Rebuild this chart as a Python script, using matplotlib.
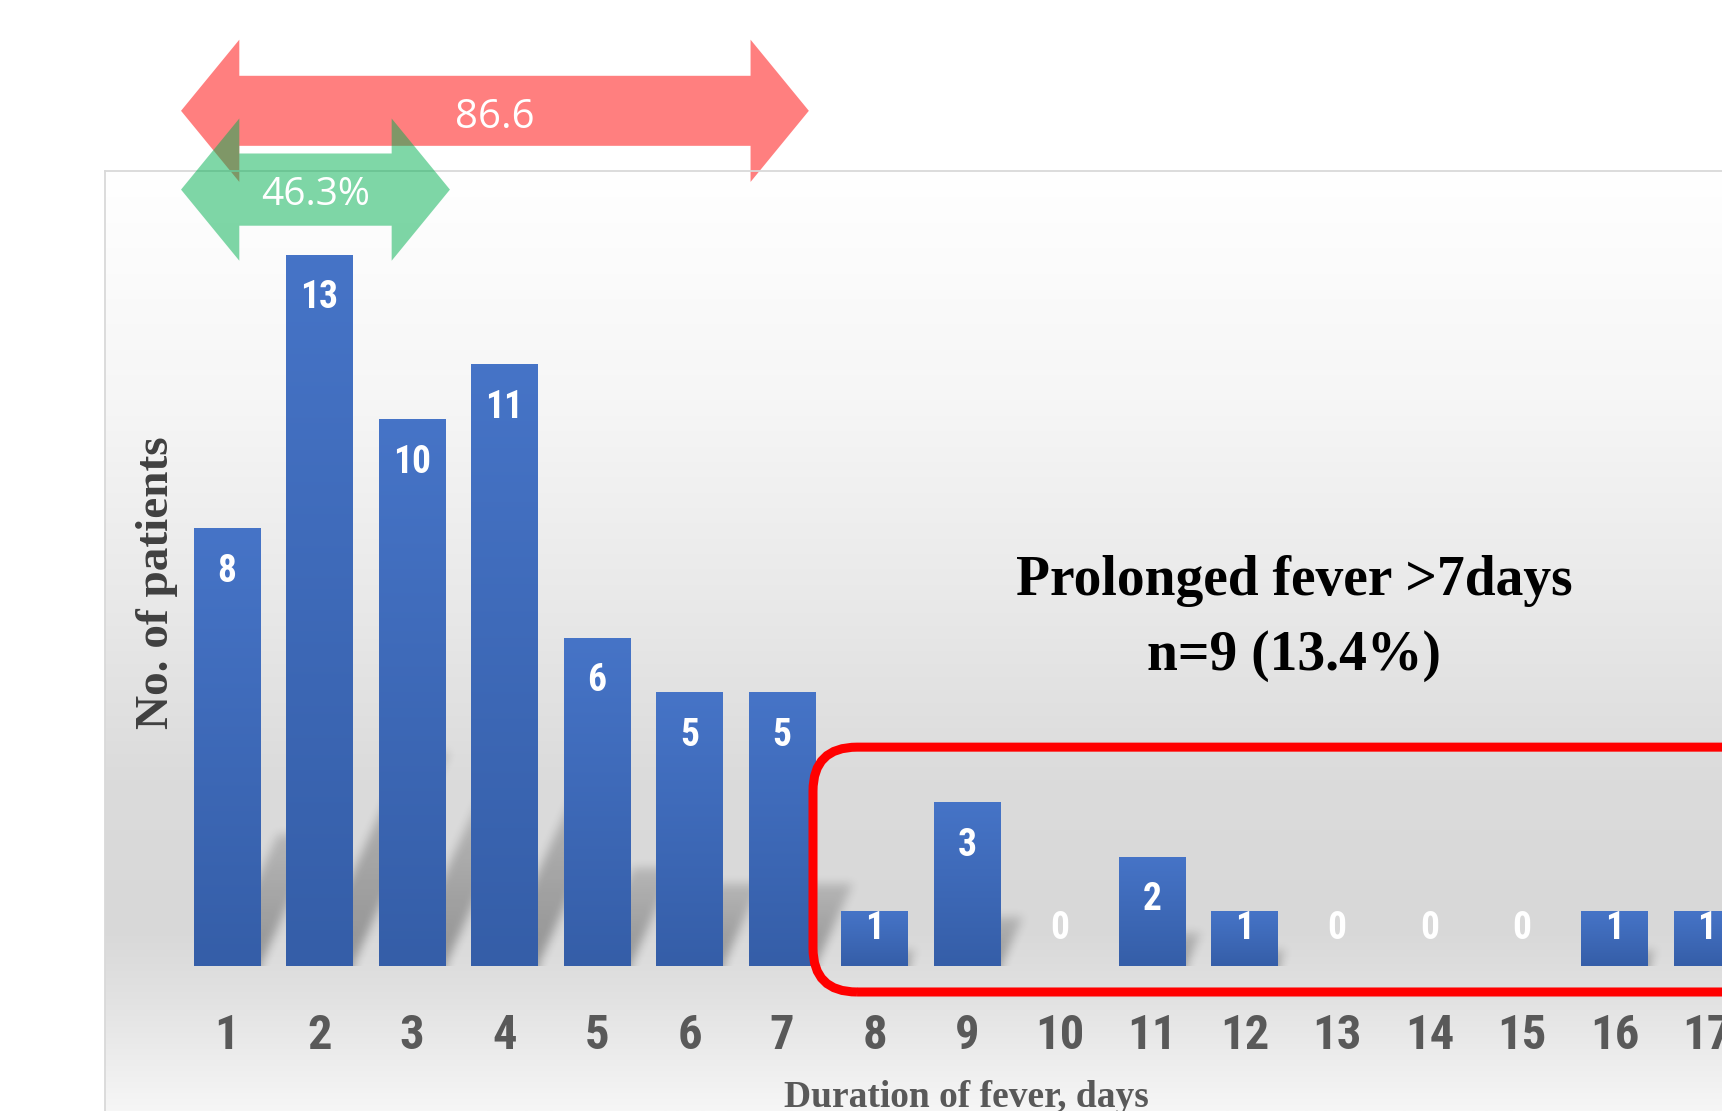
import numpy as np
import matplotlib
matplotlib.use("Agg")
import matplotlib.pyplot as plt
from matplotlib.patches import Polygon, FancyBboxPatch, Rectangle
from matplotlib import font_manager as fm

# ---------------- data ----------------
days = list(range(1, 18))
patients = [8, 13, 10, 11, 6, 5, 5, 1, 3, 0, 2, 1, 0, 0, 0, 1, 1]
tick_labels = [str(d) for d in days]
ylabel_text = "No. of patients"
xlabel_text = "Duration of fever, days"
note_line1 = "Prolonged fever >7days"
note_line2 = "n=9 (13.4%)"
red_span = (1, 7)
red_label = "86.6"
green_span = (1, 3)
green_label = "46.3%"

# ---------------- fonts ----------------
avail = {f.name for f in fm.fontManager.ttflist}
def pick(*cands):
    for c in cands:
        if c in avail:
            return c
    return "DejaVu Sans"

narrow = pick("Liberation Sans Narrow", "Roboto Condensed", "Open Sans", "Liberation Sans")
is_narrow = narrow in ("Liberation Sans Narrow", "Roboto Condensed")
serif = pick("Liberation Serif", "DejaVu Serif")
light = pick("Open Sans", "Lato", "Roboto", "DejaVu Sans")

# ---------------- figure ----------------
W, H = 1722, 1111
fig = plt.figure(figsize=(W / 100, H / 100), dpi=100)
fig.patch.set_facecolor("white")

panel_left, panel_top = 105, 171
ax = fig.add_axes([panel_left / W, 0, (W - panel_left) / W, (H - panel_top) / H])
XL = (-0.319, 17.162)
YL = (-2.65, 14.53)
px_per_x = 92.5
px_per_y = 54.7

# background gradient of the plot panel
t = np.linspace(0, 1, 500)
pix = panel_top + t * (H - panel_top)
stops_px = [171, 400, 600, 780, 930, 1000, 1111]
stops_v = [255, 246, 233, 219, 216, 226, 246]
g = np.interp(pix, stops_px, stops_v) / 255.0
img = np.repeat(np.stack([g, g, g], axis=-1)[:, None, :], 2, axis=1)
ax.imshow(img, extent=[XL[0], XL[1], YL[0], YL[1]], aspect="auto",
          origin="upper", zorder=0, interpolation="bilinear")

# ---------------- bars ----------------
bw = 0.714
bars = ax.bar(days, patients, width=bw, color="#4472C4", edgecolor="none", zorder=3)

top_c = np.array([0x46, 0x74, 0xC7]) / 255
bot_c = np.array([0x35, 0x5E, 0xA8]) / 255
tt = np.linspace(0, 1, 100)[:, None]
grad = (top_c[None, :] * (1 - tt) + bot_c[None, :] * tt)[:, None, :].repeat(2, axis=1)

for b, v in zip(bars, patients):
    if v <= 0:
        continue
    x0 = b.get_x()
    x1 = x0 + b.get_width()
    im = ax.imshow(grad, extent=[x0, x1, 0, v], aspect="auto", origin="upper",
                   zorder=3.1, interpolation="bilinear")
    im.set_clip_path(b)

# ---------------- soft perspective shadows (image) ----------------
sh_top = 5.0
nx = int((XL[1] - XL[0]) * px_per_x)
ny = int(sh_top * px_per_y)
xs_px = XL[0] * px_per_x + np.arange(nx) + 0.5
ys_px = np.arange(ny) + 0.5
XX, YY = np.meshgrid(xs_px, ys_px)
mask = np.zeros((ny, nx))
slope = 2.2
ws = 42.0
for b, v in zip(bars, patients):
    if v <= 0:
        continue
    x1p = (b.get_x() + b.get_width()) * px_per_x
    hs = min(0.3 * v, 4.2) * px_per_y
    shift = YY / slope
    inside = (YY <= hs) & (XX <= x1p + shift) & (XX >= x1p - ws + shift)
    val = np.where(inside, 1.0 - 0.5 * YY / hs, 0.0)
    mask = np.maximum(mask, val)

def box_blur(a, r):
    k = np.ones(2 * r + 1) / (2 * r + 1)
    a = np.pad(a, r, mode="edge")
    a = np.apply_along_axis(lambda m: np.convolve(m, k, mode="same"), 1, a)
    a = np.apply_along_axis(lambda m: np.convolve(m, k, mode="same"), 0, a)
    return a[r:-r, r:-r]

mask = box_blur(box_blur(mask, 5), 5)
shadow = np.zeros((ny, nx, 4))
shadow[..., 3] = 0.32 * mask
ax.imshow(shadow, extent=[XL[0], XL[1], 0, sh_top], origin="lower",
          aspect="auto", zorder=2, interpolation="bilinear")

# value labels
lbl_size = 27 if is_narrow else 22
for d, v in zip(days, patients):
    y = max(v - 0.79, 0.69)
    ax.text(d, y, str(v), ha="center", va="center", color="white",
            fontsize=lbl_size, fontweight="bold", family=narrow, zorder=4)

# ---------------- red rounded box ----------------
box = FancyBboxPatch((7.335, -0.475), 20, 4.475,
                     boxstyle="round,pad=0,rounding_size=0.476",
                     mutation_aspect=1.69, facecolor="none",
                     edgecolor="#FF0000", linewidth=6.5, zorder=5)
ax.add_patch(box)

# ---------------- annotation ----------------
ax.text(12.54, 7.04, note_line1, ha="center", va="center", fontsize=40,
        fontweight="bold", family=serif, color="black", zorder=6)
ax.text(12.54, 5.66, note_line2, ha="center", va="center", fontsize=40,
        fontweight="bold", family=serif, color="black", zorder=6)

# ---------------- double arrows ----------------
def double_arrow(xl, xr, yc, hl, hh, sh):
    return [(xl, yc), (xl + hl, yc + hh), (xl + hl, yc + sh), (xr - hl, yc + sh),
            (xr - hl, yc + hh), (xr, yc), (xr - hl, yc - hh), (xr - hl, yc - sh),
            (xl + hl, yc - sh), (xl + hl, yc - hh)]

hl = 0.63
red_l = red_span[0] - 0.497
red_r = red_span[1] + 0.29
red_y = 15.63
red_poly = Polygon(double_arrow(red_l, red_r, red_y, hl, 1.30, 0.64), closed=True,
                   facecolor=(1, 0, 0, 0.5), edgecolor="none", zorder=1, clip_on=False)
ax.add_patch(red_poly)
red_clip = Rectangle((-5, YL[1]), 40, 10, transform=ax.transData)
red_poly.set_clip_path(red_clip)
ax.text((red_l + red_r) / 2, red_y - 0.12, red_label, ha="center", va="center",
        color="white", fontsize=29, family=light, zorder=7, clip_on=False)

grn_l = green_span[0] - 0.497
grn_r = green_span[1] + 0.41
grn_y = 14.19
grn_poly = Polygon(double_arrow(grn_l, grn_r, grn_y, hl, 1.30, 0.66), closed=True,
                   facecolor=(0, 176 / 255, 80 / 255, 0.5), edgecolor="none",
                   zorder=6, clip_on=False)
ax.add_patch(grn_poly)
ax.text((grn_l + grn_r) / 2, grn_y - 0.1, green_label, ha="center", va="center",
        color="white", fontsize=28, family=light, zorder=7, clip_on=False)

# ---------------- axes styling ----------------
ax.set_xlim(*XL)
ax.set_ylim(*YL)
ax.set_facecolor("white")
for s in ("left", "top"):
    ax.spines[s].set_color("#d9d9d9")
    ax.spines[s].set_linewidth(1.3)
ax.spines["right"].set_visible(False)
ax.spines["bottom"].set_position(("data", 0))
ax.spines["bottom"].set_color("none")
ax.set_yticks([])
ax.set_xticks(days, tick_labels)
tick_size = 35 if is_narrow else 27
ax.tick_params(axis="x", length=0, pad=34, labelsize=tick_size, labelcolor="#595959")
for lab in ax.get_xticklabels():
    lab.set_fontweight("bold")
    lab.set_family(narrow)

ax.text(0.032, 0.5617, ylabel_text, transform=ax.transAxes, rotation=90,
        ha="center", va="center", fontsize=34, fontweight="bold",
        family=serif, color="#404040", zorder=6)
ax.text(8.99, -2.09, xlabel_text, ha="center", va="top", fontsize=27,
        fontweight="bold", family=serif, color="#595959", zorder=6)

fig.savefig("out.png", dpi=100, facecolor="white")
